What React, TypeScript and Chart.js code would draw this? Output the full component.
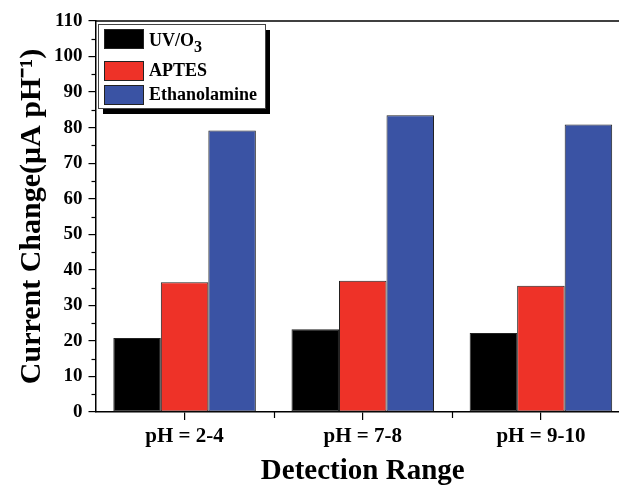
import React, { useEffect, useRef } from 'react';
import { Chart, registerables } from 'chart.js';

Chart.register(...registerables);

// values
const categories = ['pH = 2-4', 'pH = 7-8', 'pH = 9-10'];
const seriesLabels = ['UV/O₃', 'APTES', 'Ethanolamine'];
const uvO3 = [20.8, 23.3, 22.2];
const aptes = [36.5, 36.9, 35.5];
const ethanolamine = [79.2, 83.5, 80.9];
const yMin = 0;
const yMax = 110;
const yStep = 10;

const colors = ['#000000', '#EE3228', '#3A53A4'];
const serif = "'Liberation Serif', 'Times New Roman', serif";

const SUB: Record<string, string> = { '₀': '0', '₁': '1', '₂': '2', '₃': '3', '₄': '4' };

// frame top line, minor ticks and the boxed legend with a drop shadow
const decorPlugin = {
    id: 'decor',
    afterDraw(chart: any) {
        const { ctx, chartArea: a, scales } = chart;
        const xs = scales.x;
        const ys = scales.y;
        ctx.save();
        ctx.strokeStyle = '#000';
        ctx.lineWidth = 1.5;
        ctx.beginPath();
        ctx.moveTo(a.left, a.top);
        ctx.lineTo(a.right, a.top);
        ctx.stroke();

        ctx.lineWidth = 1.2;
        for (let v = yMin + yStep / 2; v < yMax; v += yStep) {
            const py = Math.round(ys.getPixelForValue(v)) + 0.5;
            ctx.beginPath();
            ctx.moveTo(a.left - 4, py);
            ctx.lineTo(a.left, py);
            ctx.stroke();
        }
        for (let i = 1; i < categories.length; i++) {
            const px = Math.round(xs.getPixelForValue(i - 0.5)) + 0.5;
            ctx.beginPath();
            ctx.moveTo(px, a.bottom);
            ctx.lineTo(px, a.bottom + 6);
            ctx.stroke();
        }

        // legend
        const bx = a.left + 2.5;
        const by = a.top + 3;
        const bw = 167;
        const bh = 84;
        ctx.fillStyle = '#000';
        ctx.fillRect(bx + 5, by + 6, bw, bh);
        ctx.fillStyle = '#fff';
        ctx.fillRect(bx, by, bw, bh);
        ctx.strokeStyle = '#444';
        ctx.lineWidth = 1;
        ctx.strokeRect(bx + 0.5, by + 0.5, bw, bh);

        const rowTops = [5, 37, 61];
        const rowBase = [22, 52, 76];
        chart.data.datasets.forEach((ds: any, i: number) => {
            ctx.fillStyle = ds.backgroundColor;
            ctx.fillRect(bx + 6, by + rowTops[i], 40, 20);
            ctx.strokeStyle = '#222';
            ctx.strokeRect(bx + 6.5, by + rowTops[i] + 0.5, 39, 19);
            let tx = bx + 51;
            const ty = by + rowBase[i];
            ctx.fillStyle = '#000';
            ctx.textBaseline = 'alphabetic';
            ctx.textAlign = 'left';
            for (const ch of Array.from(ds.label as string)) {
                if (SUB[ch]) {
                    ctx.font = `bold 16px ${serif}`;
                    ctx.fillText(SUB[ch], tx, ty + 6);
                    tx += ctx.measureText(SUB[ch]).width;
                } else {
                    ctx.font = `bold 18px ${serif}`;
                    ctx.fillText(ch, tx, ty);
                    tx += ctx.measureText(ch).width;
                }
            }
        });
        ctx.restore();
    },
};

const App: React.FC = () => {
    const canvasRef = useRef<HTMLCanvasElement>(null);
    const chartRef = useRef<Chart | null>(null);

    useEffect(() => {
        if (!canvasRef.current) return;
        const ctx = canvasRef.current.getContext('2d');
        if (!ctx) return;
        if (chartRef.current) chartRef.current.destroy();

        const series = [uvO3, aptes, ethanolamine];

        chartRef.current = new Chart(ctx, {
            type: 'bar',
            data: {
                labels: categories,
                datasets: series.map((values, i) => ({
                    label: seriesLabels[i],
                    data: values,
                    backgroundColor: colors[i],
                    borderColor: '#222',
                    borderWidth: 1,
                    borderSkipped: false,
                    categoryPercentage: 0.8,
                    barPercentage: 1.0,
                })),
            },
            options: {
                animation: false,
                responsive: true,
                maintainAspectRatio: false,
                layout: { padding: { top: 21, right: 10, left: 0, bottom: 0 } },
                scales: {
                    x: {
                        afterFit: (scale: any) => { scale.height = 74; },
                        grid: { offset: false, drawOnChartArea: false, drawTicks: true, tickLength: 8, color: '#000', lineWidth: 1.2 },
                        border: { display: true, color: '#000', width: 1.5 },
                        ticks: { color: '#000', padding: 4, font: { family: serif, size: 21, weight: 'bold' } },
                        title: {
                            display: true,
                            text: 'Detection Range',
                            color: '#000',
                            padding: { top: 0, bottom: 0 },
                            font: { family: serif, size: 29, weight: 'bold', lineHeight: 1 },
                        },
                    },
                    y: {
                        min: yMin,
                        max: yMax,
                        afterFit: (scale: any) => { scale.width = 95.5; },
                        grid: { drawOnChartArea: false, drawTicks: true, tickLength: 7, color: '#000', lineWidth: 1.2 },
                        border: { display: true, color: '#000', width: 1.5 },
                        ticks: { stepSize: yStep, color: '#000', padding: 6, font: { family: serif, size: 19, weight: 'bold' } },
                        title: {
                            display: true,
                            text: 'Current Change(μA pH⁻¹)',
                            color: '#000',
                            padding: { top: 14, bottom: 0 },
                            font: { family: serif, size: 30, weight: 'bold' },
                        },
                    },
                },
                plugins: {
                    legend: { display: false },
                    tooltip: { enabled: false },
                },
            },
            plugins: [decorPlugin],
        });

        return () => {
            if (chartRef.current) {
                chartRef.current.destroy();
                chartRef.current = null;
            }
        };
    }, []);

    return (
        <div style={{ position: 'fixed', left: 0, top: 0, width: 619, height: 486, overflow: 'hidden', background: '#fff' }}>
            <div style={{ position: 'relative', width: 640, height: 486 }}>
                <canvas ref={canvasRef}></canvas>
            </div>
        </div>
    );
};

export default App;
